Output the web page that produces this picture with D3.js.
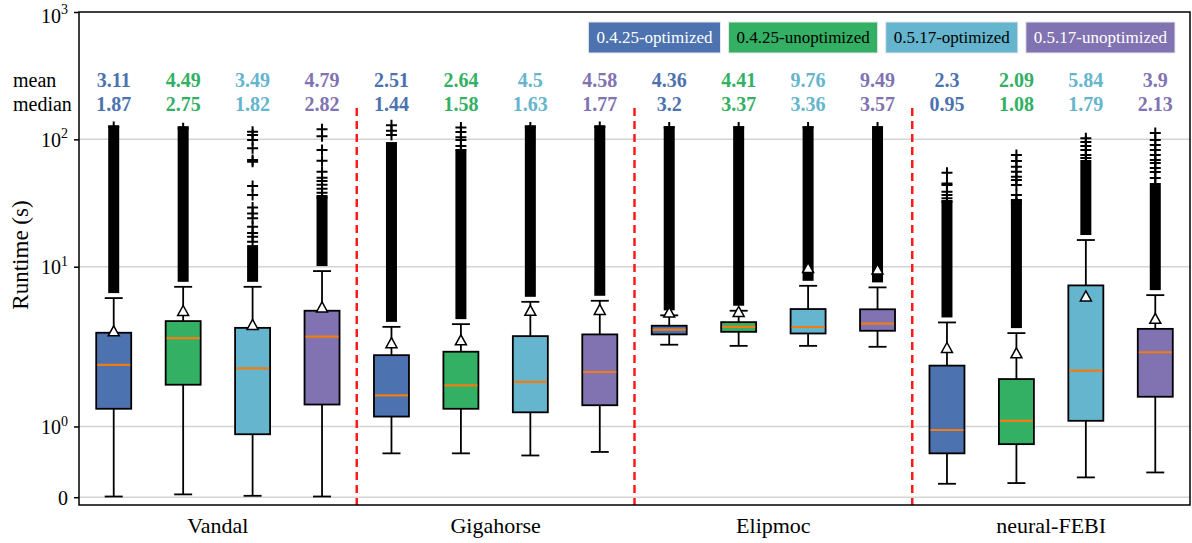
<!DOCTYPE html>
<html><head><meta charset="utf-8">
<script src="https://cdn.jsdelivr.net/npm/d3@7"></script>
<style>body{margin:0;background:#fff}svg{display:block}</style>
</head><body><svg id="c" width="1192" height="543"></svg>
<script>
const groups = ["Vandal","Gigahorse","Elipmoc","neural-FEBI"];
const series = ["0.4.25-optimized","0.4.25-unoptimized","0.5.17-optimized","0.5.17-unoptimized"];
const colors = ["#4c72b0","#33b064","#64b5cd","#8172b2"];
const legendTextColors = ["#ffffff","#000000","#000000","#ffffff"];
// rows = groups, columns = series
const means   = [[3.11,4.49,3.49,4.79],[2.51,2.64,4.5,4.58],[4.36,4.41,9.76,9.49],[2.3,2.09,5.84,3.9]];
const medians = [[1.87,2.75,1.82,2.82],[1.44,1.58,1.63,1.77],[3.2,3.37,3.36,3.57],[0.95,1.08,1.79,2.13]];
const q1s     = [[1.25,1.59,0.89,1.31],[1.14,1.25,1.20,1.30],[2.94,3.08,2.99,3.14],[0.62,0.75,1.08,1.42]];
const q3s     = [[3.03,3.74,3.31,4.51],[2.02,2.15,2.85,2.94],[3.44,3.67,4.65,4.63],[1.86,1.67,7.13,3.25]];
const whisLo  = [[0.01,0.04,0.02,0.01],[0.62,0.62,0.59,0.64],[2.44,2.39,2.39,2.35],[0.19,0.20,0.28,0.35]];
const whisHi  = [[5.67,6.95,6.95,9.24],[3.37,3.54,5.30,5.40],[4.15,4.51,7.08,6.88],[3.65,3.01,16.2,5.98]];
// outliers packed so densely they form a solid column, from the upper whisker up to this value
const denseTop = [[118,116,13.5,33.4],[87,75,118,118],[116,116,116,116],[30.5,30.5,62.9,40]];
// sparse outliers above the dense column
const sparse = [
  [[125],[122],[114.8,108,98.9,85,68.8,66.7,43,36.5,29.2,26.2,24.0,20.6,18.4,17.2,15.7],[120,106,82.4,67.8,55.7,50,47,44,41,38,35]],
  [[129,117,108],[124,114,104,98.8,88.6,82.4],[124],[125]],
  [[124],[124],[124],[124]],
  [[54.7,45.1,43.8,38.8,36.5,34.4,32.4],[75.3,67.6,61,55.7,50.9,47.9,43.8,36.5,33.4,31.4],[102,95.3,88.6,82.4,75.3,71.3],[112,98.8,90.2,82.4,75.3,68.8,65.2,59.5,55.4,49.7,44.6]]
];
const yTicks = [0,1,10,100,1000];
const yTickLabels = [["0",""],["10","0"],["10","1"],["10","2"],["10","3"]];

const L=79, R=1190, T=12, B=505;
const FONT = "'Liberation Serif','Times New Roman',Times,'Nimbus Roman','Nimbus Roman No9 L','Noto Serif','DejaVu Serif','FreeSerif',serif";
const svg = d3.select("#c").style("font-family",FONT);
// symmetric log transform, linthresh 2, linscale 1
const LT=2, LS=1/(1-0.1);
const fwd = v => Math.abs(v)<=LT ? v/LT*LS : Math.sign(v)*(LS+Math.log10(Math.abs(v)/LT));
const Y = d3.scaleLinear().domain([fwd(-0.11), fwd(1000)]).range([B,T]);
const y = v => Y(fwd(v));
const xG = d3.scaleBand().domain(groups).range([L,R]);
const xS = d3.scaleBand().domain(series).range([0,xG.bandwidth()]);
const cx = (gi,si) => xG(groups[gi]) + xS(series[si]) + xS.bandwidth()/2;
const BW = 35;

svg.append("g").selectAll("line").data(yTicks.slice(0,4)).join("line")
  .attr("x1",L).attr("x2",R).attr("y1",d=>y(d)).attr("y2",d=>y(d))
  .attr("stroke","#d4d4d4").attr("stroke-width",1.5);

svg.append("g").selectAll("line").data(groups.slice(1)).join("line")
  .attr("x1",d=>xG(d)).attr("x2",d=>xG(d)).attr("y1",108).attr("y2",B)
  .attr("stroke","#ff1a1a").attr("stroke-width",2.5).attr("stroke-dasharray","8,5");

const boxes=[];
groups.forEach((g,gi)=>series.forEach((s,si)=>boxes.push({gi,si})));

const txt = (sel)=>sel.style("font-family",FONT);
const gb = svg.append("g");
boxes.forEach(({gi,si})=>{
  const c = cx(gi,si);
  const grp = gb.append("g");
  grp.append("line").attr("x1",c).attr("x2",c).attr("y1",y(q3s[gi][si])).attr("y2",y(whisHi[gi][si])).attr("stroke","#000").attr("stroke-width",1.8);
  grp.append("line").attr("x1",c).attr("x2",c).attr("y1",y(q1s[gi][si])).attr("y2",y(whisLo[gi][si])).attr("stroke","#000").attr("stroke-width",1.8);
  [whisHi[gi][si], whisLo[gi][si]].forEach(v=>grp.append("line").attr("x1",c-9).attr("x2",c+9).attr("y1",y(v)).attr("y2",y(v)).attr("stroke","#000").attr("stroke-width",1.8));
  const yt = y(denseTop[gi][si]), yb = y(whisHi[gi][si]);
  grp.append("rect").attr("x",c-5.5).attr("width",11).attr("y",yt-5).attr("height",Math.max(0,yb-yt))
    .attr("fill","#000");
  grp.selectAll("path.o").data(sparse[gi][si]).join("path").attr("class","o")
    .attr("d",v=>`M${c-5.5},${y(v)}H${c+5.5}M${c},${y(v)-5.5}V${y(v)+5.5}`)
    .attr("stroke","#000").attr("stroke-width",2);
  grp.append("rect").attr("x",c-BW/2).attr("width",BW).attr("y",y(q3s[gi][si])).attr("height",y(q1s[gi][si])-y(q3s[gi][si]))
    .attr("fill",colors[si]).attr("stroke","#000").attr("stroke-width",1.8);
  grp.append("line").attr("x1",c-BW/2+1).attr("x2",c+BW/2-1).attr("y1",y(medians[gi][si])).attr("y2",y(medians[gi][si]))
    .attr("stroke","#f07c12").attr("stroke-width",2.2);
  const ym = y(means[gi][si]);
  grp.append("path").attr("d",`M${c},${ym-5.5}L${c+5.5},${ym+4.5}L${c-5.5},${ym+4.5}Z`)
    .attr("fill","#fff").attr("stroke","#000").attr("stroke-width",1.5);
  txt(svg.append("text")).attr("x",c).attr("y",87).attr("text-anchor","middle").attr("font-size",20).attr("font-weight","bold")
    .attr("fill",colors[si]).text(means[gi][si]);
  txt(svg.append("text")).attr("x",c).attr("y",111).attr("text-anchor","middle").attr("font-size",20).attr("font-weight","bold")
    .attr("fill",colors[si]).text(medians[gi][si]);
});
txt(svg.append("text")).attr("x",13).attr("y",87).attr("font-size",20).text("mean");
txt(svg.append("text")).attr("x",13).attr("y",111).attr("font-size",20).text("median");

svg.append("rect").attr("x",L).attr("y",T).attr("width",R-L).attr("height",B-T).attr("fill","none").attr("stroke","#000").attr("stroke-width",1.5);

const ax = svg.append("g").attr("transform",`translate(${L},0)`)
  .call(d3.axisLeft(Y).tickValues(yTicks.map(fwd)).tickSize(5).tickPadding(6).tickFormat(""));
ax.attr("font-family",null).style("font-family",FONT);
ax.select(".domain").remove();
ax.selectAll(".tick line").attr("stroke","#000").attr("stroke-width",1.5);
ax.selectAll(".tick text").each(function(d,i){
  const t=txt(d3.select(this)).attr("font-size",20).attr("fill","#000").attr("dy","0.35em");
  t.append("tspan").text(yTickLabels[i][0]);
  if(yTickLabels[i][1]) t.append("tspan").attr("font-size",14).attr("dy","-0.6em").text(yTickLabels[i][1]);
});
ax.selectAll(".tick").filter((d,i)=>i===4).select("text").attr("dy","0.5em");
txt(svg.append("g").selectAll("text").data(groups).join("text"))
  .attr("x",d=>xG(d)+xG.bandwidth()/2).attr("y",533).attr("text-anchor","middle").attr("font-size",22).text(d=>d);
txt(svg.append("text")).attr("transform","translate(28,255) rotate(-90)").attr("text-anchor","middle").attr("font-size",23).text("Runtime (s)");

const lg = svg.append("g");
let lx = 1175;
const items=[];
for(let i=series.length-1;i>=0;i--){
  const t = txt(lg.append("text")).attr("font-size",17).attr("fill",legendTextColors[i]).text(series[i]);
  const w = t.node().getComputedTextLength()+16;
  lx -= w;
  items.push({i,t,x:lx,w});
  lx -= 8;
}
items.forEach(({i,t,x,w})=>{
  lg.insert("rect","text").attr("x",x).attr("y",22).attr("width",w).attr("height",31).attr("fill",colors[i]).attr("stroke","#e8e8e8").attr("stroke-width",1);
  t.attr("x",x+w/2).attr("y",43).attr("text-anchor","middle");
});
</script></body></html>
